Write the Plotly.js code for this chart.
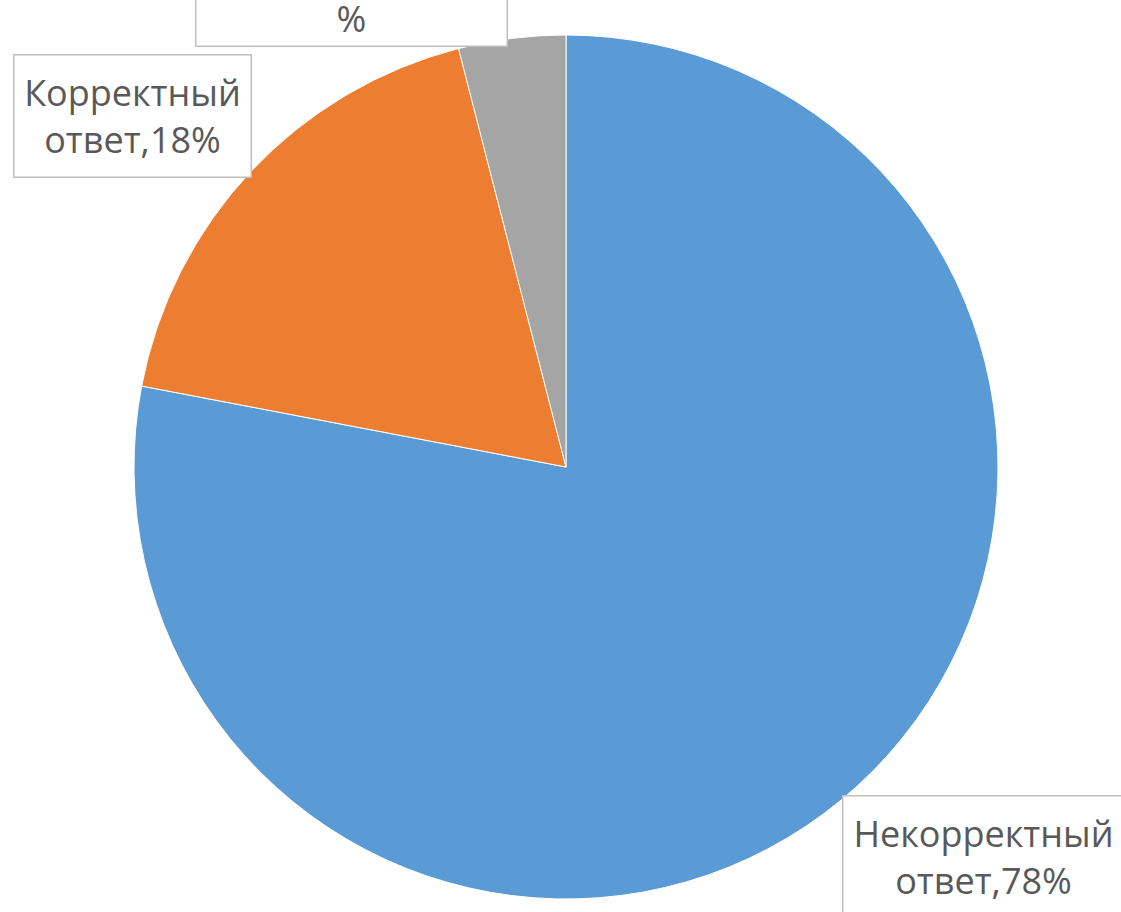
<!DOCTYPE html>
<html>
<head>
<meta charset="utf-8">
<script src="https://cdn.plot.ly/plotly-3.0.1.min.js"></script>
<style>html,body{margin:0;padding:0;background:#fff;}#chart{width:1121px;height:912px;}</style>
</head>
<body>
<div id="chart"></div>
<script>
const categories = ["Некорректный ответ", "Корректный ответ", "Нет ответа"];
const values = [78, 18, 4];
const colors = ["#5B9BD5", "#ED7D31", "#A5A5A5"];
const labelTexts = ["Некорректный<br>ответ,78%", "Корректный<br>ответ,18%", "Нет ответа,4<br>%"];

const W = 1121, H = 912;
function px(x){return x/W;}
function py(y){return 1 - y/H;}

// label boxes (layout only): [cx, cy, w, h]
const boxes = [
  [983, 857, 280, 121],
  [132, 115.5, 236, 121],
  [351, -5, 310, 100]
];

const annotations = categories.map((c, i) => ({
  xref: "paper", yref: "paper",
  x: px(boxes[i][0]), y: py(boxes[i][1]),
  xanchor: "center", yanchor: "middle",
  text: labelTexts[i],
  showarrow: false,
  width: boxes[i][2], height: boxes[i][3],
  bgcolor: "#ffffff",
  bordercolor: "#BFBFBF",
  borderwidth: 1.5,
  borderpad: 0,
  align: "center", valign: "middle",
  font: {family: "Open Sans, Noto Sans, sans-serif", size: 36, color: "#595959"}
}));

const data = [{
  type: "pie",
  labels: categories,
  values: values,
  sort: false,
  direction: "clockwise",
  rotation: 0,
  textinfo: "none",
  hoverinfo: "label+percent",
  marker: {colors: colors, line: {color: "#ffffff", width: 1}},
  domain: {x: [px(134), px(998)], y: [py(899), py(35)]},
  showlegend: false
}];

const layout = {
  width: W, height: H,
  margin: {l: 0, r: 0, t: 0, b: 0},
  paper_bgcolor: "#ffffff",
  plot_bgcolor: "#ffffff",
  showlegend: false,
  annotations: annotations
};

Plotly.newPlot("chart", data, layout, {displayModeBar: false, staticPlot: true});
</script>
</body>
</html>
